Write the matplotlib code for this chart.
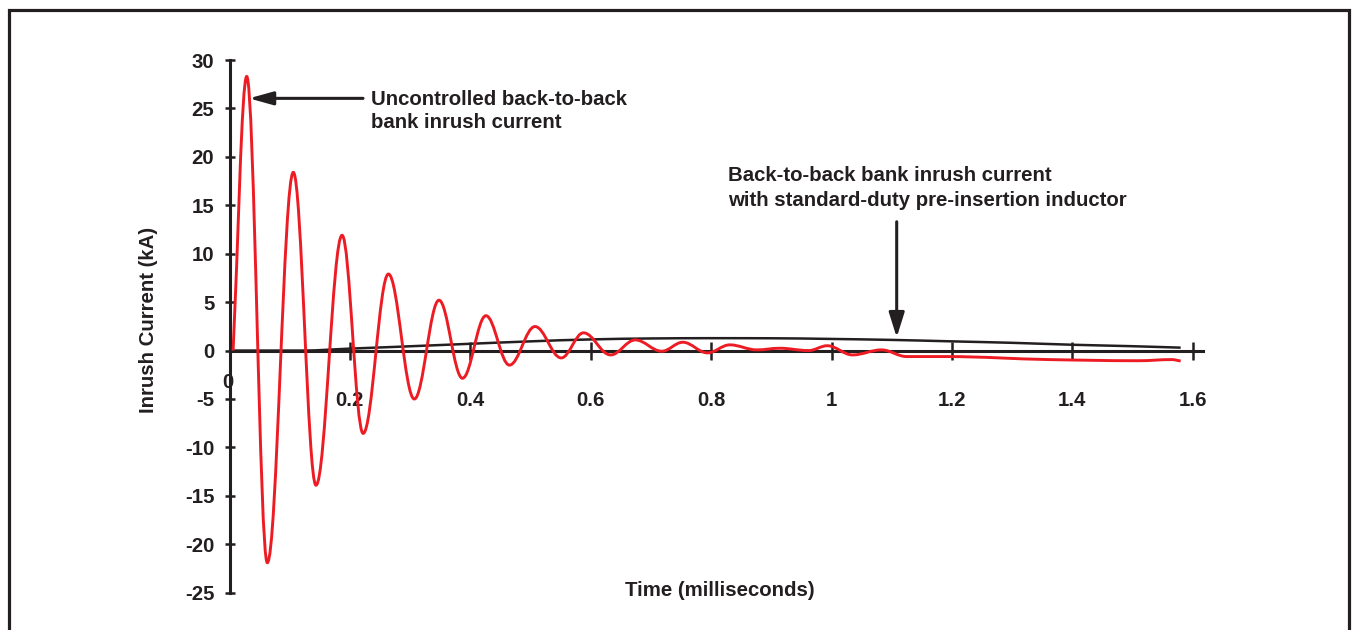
import numpy as np
import matplotlib
matplotlib.use("Agg")
import matplotlib.pyplot as plt
from matplotlib.path import Path
from matplotlib.patches import PathPatch, Rectangle

#values (time in ms, current in kA)
#uncontrolled inrush - peaks and troughs of the ringing
red_t = [0.006, 0.0286, 0.0628, 0.106, 0.1437, 0.187, 0.222, 0.264, 0.307, 0.348,
         0.387, 0.426, 0.465, 0.5075, 0.551, 0.588, 0.633, 0.674, 0.718, 0.753,
         0.794, 0.831, 0.876, 0.914, 0.962, 0.993, 1.035, 1.083, 1.125, 1.19,
         1.36, 1.51, 1.565, 1.58]
red_ka = [0.0, 28.3, -21.9, 18.4, -13.9, 11.9, -8.55, 7.9, -5.0, 5.2,
          -2.86, 3.6, -1.5, 2.48, -0.76, 1.83, -0.45, 1.1, -0.07, 0.86,
          -0.24, 0.59, 0.07, 0.24, 0.0, 0.5, -0.45, 0.07, -0.62, -0.62,
          -0.93, -1.05, -0.93, -1.08]

#with pre-insertion inductor
black_t = [0.0, 0.12, 0.2, 0.283, 0.4, 0.5, 0.6, 0.7, 0.8, 0.9, 1.0,
           1.1, 1.2, 1.3, 1.4, 1.5, 1.58]
black_ka = [0.0, 0.0, 0.2, 0.4, 0.7, 0.95, 1.15, 1.25, 1.28, 1.27, 1.2,
            1.1, 0.95, 0.8, 0.6, 0.45, 0.3]

xticks = [0.2, 0.4, 0.6, 0.8, 1.0, 1.2, 1.4, 1.6]
xtick_labels = ['0.2', '0.4', '0.6', '0.8', '1', '1.2', '1.4', '1.6']
yticks = [-25, -20, -15, -10, -5, 0, 5, 10, 15, 20, 25, 30]
ytick_labels = [str(v) for v in yticks]

DARK = '#231f20'
RED = '#ed1c24'
FS = 14.7

plt.rcParams['font.family'] = ['Liberation Sans', 'DejaVu Sans']
plt.rcParams['font.weight'] = 'bold'


#smooth bezier through the read points, flat (sine-like) at turning points
def smooth_path(xs, ys):
    xs = np.asarray(xs, float)
    ys = np.asarray(ys, float)
    d = np.diff(ys) / np.diff(xs)
    m = np.zeros(len(xs))
    m[0] = d[0]
    m[-1] = d[-1]
    for i in range(1, len(xs) - 1):
        if d[i - 1] * d[i] > 0:
            m[i] = 2 * d[i - 1] * d[i] / (d[i - 1] + d[i])
    verts = [(xs[0], ys[0])]
    codes = [Path.MOVETO]
    for i in range(len(xs) - 1):
        h = xs[i + 1] - xs[i]
        #longer flat handles round the peaks off like a cosine
        a0 = 0.367 if m[i] == 0 else 1 / 3
        a1 = 0.367 if m[i + 1] == 0 else 1 / 3
        verts += [(xs[i] + a0 * h, ys[i] + m[i] * a0 * h),
                  (xs[i + 1] - a1 * h, ys[i + 1] - m[i + 1] * a1 * h),
                  (xs[i + 1], ys[i + 1])]
        codes += [Path.CURVE4] * 3
    return Path(verts, codes)


W, H = 1352, 630
fig = plt.figure(figsize=(W / 100, H / 100), dpi=100)

#axes placed to match the pixel layout
ax = fig.add_axes([229.5 / W, (H - 592.7) / H, 1.617 * 602 / W, 532.7 / H])
ax.set_xlim(0, 1.617)
ax.set_ylim(-25, 30)
ax.patch.set_visible(False)

for s in ['top', 'right']:
    ax.spines[s].set_visible(False)
ax.spines['bottom'].set_position(('data', 0))
for s in ['left', 'bottom']:
    ax.spines[s].set_linewidth(2.2)
    ax.spines[s].set_color(DARK)

ax.set_xticks(xticks)
ax.set_xticklabels(xtick_labels)
ax.set_yticks(yticks)
ax.set_yticklabels(ytick_labels)
ax.tick_params(axis='x', direction='inout', length=13, width=1.8, pad=22.7,
               labelsize=FS, colors=DARK)
ax.tick_params(axis='y', direction='inout', length=7.5, width=1.8, pad=7.2,
               labelsize=FS, colors=DARK)

#curves
ax.add_patch(PathPatch(smooth_path(black_t, black_ka), fill=False,
                       edgecolor=DARK, lw=1.8, zorder=3))
ax.add_patch(PathPatch(smooth_path(red_t, red_ka), fill=False,
                       edgecolor=RED, lw=2.1, zorder=4))

#the zero under the origin
ax.annotate('0', xy=(0, 0), xytext=(-1, -26.6), textcoords='offset points',
            ha='center', va='baseline', fontsize=FS, color=DARK)

#arrows and callouts
ax.annotate('', xy=(0.0324, 26.04), xytext=(0.2218, 26.04),
            arrowprops=dict(arrowstyle='-|>,head_length=14.4,head_width=4',
                            mutation_scale=1, lw=2.2, color=DARK,
                            shrinkA=0, shrinkB=0), zorder=5)
ax.text(0.2357, 25.97, 'Uncontrolled back-to-back', fontsize=FS,
        color=DARK, va='center', ha='left')
ax.text(0.2357, 23.54, 'bank inrush current', fontsize=FS,
        color=DARK, va='center', ha='left')

ax.annotate('', xy=(1.1083, 1.36), xytext=(1.1083, 13.3),
            arrowprops=dict(arrowstyle='-|>,head_length=15,head_width=4.7',
                            mutation_scale=1, lw=2.2, color=DARK,
                            shrinkA=0, shrinkB=0), zorder=5)
ax.text(0.8286, 18.05, 'Back-to-back bank inrush current', fontsize=FS,
        color=DARK, va='center', ha='left')
ax.text(0.8286, 15.47, 'with standard-duty pre-insertion inductor', fontsize=FS,
        color=DARK, va='center', ha='left')

#axis titles
fig.text(149 / W, 1 - 320 / H, 'Inrush Current (kA)', rotation=90,
         ha='center', va='center', fontsize=FS, color=DARK)
fig.text(720 / W, 1 - 590 / H, 'Time (milliseconds)',
         ha='center', va='center', fontsize=FS, color=DARK)

#outer frame, open at the bottom edge of the image
fig.add_artist(Rectangle((8.5 / W, -0.1), (1349 - 8.5) / W, 1.1 - 10 / H,
                         transform=fig.transFigure, fill=False,
                         edgecolor=DARK, lw=2.3, clip_on=False))

fig.savefig('out.png', dpi=100)
